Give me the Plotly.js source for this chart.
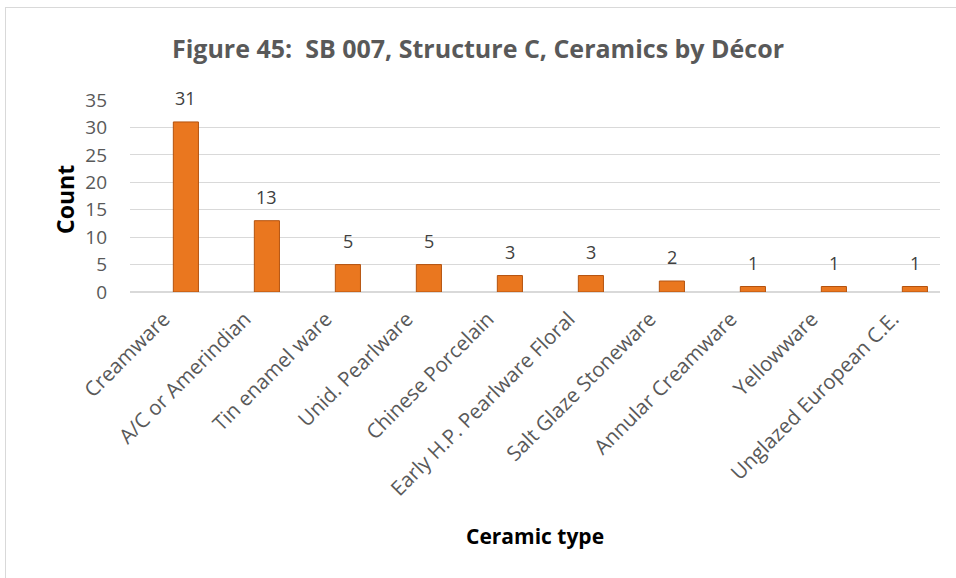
<!DOCTYPE html>
<html>
<head>
<meta charset="utf-8">
<script src="https://cdn.plot.ly/plotly-3.0.1.min.js"></script>
<style>
  html, body { margin: 0; padding: 0; background: #ffffff; }
  #wrap { position: relative; width: 956px; height: 578px; overflow: hidden; }
  #frame { position: absolute; left: 5px; top: 7px; width: 960px; height: 580px;
           border-left: 1px solid #d9d9d9; border-top: 1px solid #d9d9d9; pointer-events: none; }
  #chart { position: absolute; left: 0; top: 0; width: 956px; height: 578px; }
</style>
</head>
<body>
<div id="wrap">
  <div id="chart"></div>
  <div id="frame"></div>
</div>
<script>
const categories = ["Creamware", "A/C or Amerindian", "Tin enamel ware", "Unid. Pearlware",
  "Chinese Porcelain", "Early H.P. Pearlware Floral", "Salt Glaze Stoneware",
  "Annular Creamware", "Yellowware", "Unglazed European C.E."];
const counts = [31, 13, 5, 5, 3, 3, 2, 1, 1, 1];
const yTicks = [0, 5, 10, 15, 20, 25, 30, 35];

const font = "'Open Sans', 'Noto Sans', sans-serif";

const trace = {
  type: "bar",
  x: categories,
  y: counts,
  width: 0.31,
  marker: { color: "#EA771F", line: { color: "#B4520E", width: 1 } },
  hoverinfo: "x+y"
};

const labels = categories.map((c, i) => ({
  x: c, y: counts[i], xref: "x", yref: "y",
  text: String(counts[i]), showarrow: false,
  yshift: 24, yanchor: "middle",
  font: { family: font, size: 18, color: "#404040" }
}));

const layout = {
  width: 956, height: 578,
  margin: { l: 130, r: 16, t: 100, b: 286 },
  paper_bgcolor: "#ffffff", plot_bgcolor: "#ffffff",
  showlegend: false,
  title: {
    text: "<b>Figure 45:  SB 007, Structure C, Ceramics by Décor</b>",
    x: 478 / 956, xanchor: "center", y: 1 - 49/578, yanchor: "middle",
    font: { family: font, size: 25, color: "#595959" }
  },
  xaxis: {
    type: "category",
    range: [-0.69, 9.31],
    tickangle: -45,
    showgrid: false, zeroline: false, showline: false, ticks: "",
    ticklabelstandoff: 10,
    ticklabelshift: -22,
    tickfont: { family: font, size: 20.5, color: "#595959" },
    fixedrange: true
  },
  yaxis: {
    range: [0, 35],
    tickvals: yTicks,
    ticktext: yTicks.map(String),
    showgrid: true, gridcolor: "#d9d9d9", gridwidth: 1,
    zeroline: true, zerolinecolor: "#d9d9d9", zerolinewidth: 1.5,
    showline: false, ticks: "",
    ticklabelstandoff: 22,
    tickfont: { family: font, size: 19, color: "#595959" },
    fixedrange: true
  },
  annotations: labels.concat([
    { text: "<b>Count</b>", xref: "paper", yref: "paper", x: (65 - 130) / 810, y: (292 - 200) / 192,
      xanchor: "center", yanchor: "middle", textangle: -90, showarrow: false,
      font: { family: font, size: 23, color: "#000000" } },
    { text: "<b>Ceramic type</b>", xref: "paper", yref: "paper", x: (535 - 130) / 810, y: (292 - 536) / 192,
      xanchor: "center", yanchor: "middle", showarrow: false,
      font: { family: font, size: 21, color: "#000000" } }
  ])
};

Plotly.newPlot("chart", [trace], layout, { displayModeBar: false, staticPlot: true });
</script>
</body>
</html>
